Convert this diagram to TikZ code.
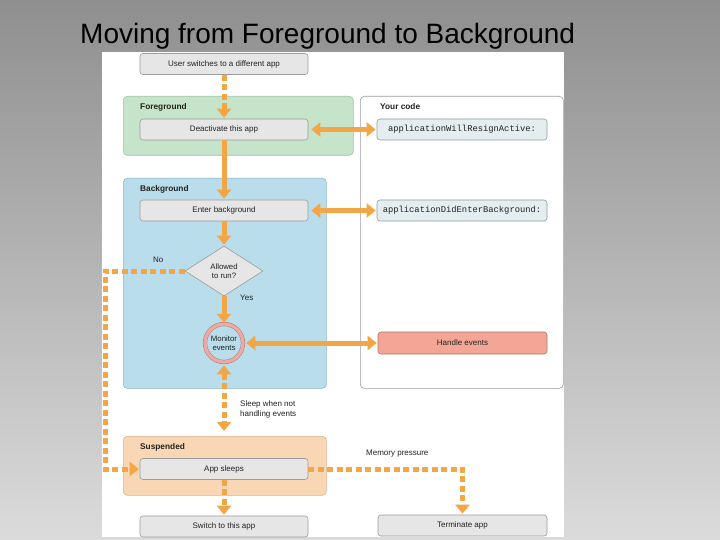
\documentclass[tikz,border=0pt]{standalone}
\usepackage{fontspec}
\setmainfont{Liberation Sans}
\setmonofont{Liberation Mono}
\usetikzlibrary{arrows.meta,shapes.geometric}
\definecolor{arrcol}{HTML}{F2A645}
\definecolor{fgfill}{HTML}{C6E4CA}
\definecolor{fgdraw}{HTML}{9FC2A3}
\definecolor{bgfill}{HTML}{B9DDEA}
\definecolor{bgdraw}{HTML}{8FB6C6}
\definecolor{sufill}{HTML}{FAD7B4}
\definecolor{sudraw}{HTML}{D8B490}
\definecolor{boxfill}{HTML}{E6E6E6}
\definecolor{boxdraw}{HTML}{9C9C9C}
\definecolor{codefill}{HTML}{E4EDEF}
\definecolor{codedraw}{HTML}{8E9EA4}
\definecolor{hefill}{HTML}{F3A695}
\definecolor{hedraw}{HTML}{B07868}
\definecolor{ringfill}{HTML}{E9ABA4}
\definecolor{ringdraw}{HTML}{B87870}
\definecolor{txt}{HTML}{222222}
\tikzset{
  region/.style={rounded corners=4pt, draw, line width=0.6pt, anchor=north west, inner sep=0pt},
  ttl/.style={font=\fontsize{8.3}{10}\selectfont\bfseries, text=txt, anchor=west, inner sep=0pt},
  stepbox/.style={rounded corners=3pt, draw=boxdraw, fill=boxfill, line width=0.6pt,
    minimum width=168pt, minimum height=21pt, inner sep=0pt,
    font=\fontsize{8}{10}\selectfont, text=txt},
  codebox/.style={stepbox, draw=codedraw, fill=codefill, minimum width=170pt,
    font=\fontsize{8.8}{10}\ttfamily},
  lbl/.style={font=\fontsize{8}{9.6}\selectfont, text=txt, inner sep=0pt},
  arr/.style={draw=arrcol, line width=5pt, -{Triangle[width=14pt,length=9pt]}},
  arrtwo/.style={draw=arrcol, line width=5pt, {Triangle[width=14pt,length=9pt]}-{Triangle[width=14pt,length=9pt]}},
  dsh/.style={dash pattern=on 6pt off 3.5pt},
}
\begin{document}
\begin{tikzpicture}[x=1pt,y=-1pt]
\useasboundingbox (0,0) rectangle (720,540);
\shade[top color=black!44, bottom color=black!14] (0,0) rectangle (720,540);
\node[anchor=base west, font=\fontsize{28}{30}\selectfont, inner sep=0pt, text=black] (title) at (80,44) {Moving from Foreground to Background};
\fill[white] (102,52) rectangle (564,537);

% regions
\node[region, draw=fgdraw, fill=fgfill, minimum width=230pt, minimum height=59pt] (fg) at (123,96) {};
\node[region, draw=bgdraw, fill=bgfill, minimum width=203pt, minimum height=210pt] (bg) at (123,178) {};
\node[region, draw=sudraw, fill=sufill, minimum width=203pt, minimum height=59pt] (su) at (123,436) {};
\node[region, draw=boxdraw, fill=white, minimum width=203pt, minimum height=292pt] (yc) at (360,96) {};

\node[ttl] (fgt) at (140,107) {Foreground};
\node[ttl] (bgt) at (140,189) {Background};
\node[ttl] (sut) at (140,447) {Suspended};
\node[ttl] (yct) at (380,107) {Your code};

% boxes
\node[stepbox] (user) at (224,64) {User switches to a different app};
\node[stepbox] (deact) at (224,129.5) {Deactivate this app};
\node[stepbox] (enter) at (224,210.5) {Enter background};
\node[codebox] (code1) at (462,129.5) {applicationWillResignActive:};
\node[codebox] (code2) at (462,210.5) {applicationDidEnterBackground:};
\node[diamond, draw=boxdraw, fill=boxfill, line width=0.6pt, aspect=1.56,
  minimum width=78pt, minimum height=50pt, inner sep=1pt, align=center,
  font=\fontsize{7.8}{9.5}\selectfont, text=txt] (dia) at (224,271) {Allowed\\to run?};
\node[circle, draw=ringdraw, double=ringfill, double distance=3.2pt, line width=0.5pt,
  fill=bgfill, minimum size=38pt, inner sep=0pt, align=center,
  font=\fontsize{7.8}{9.5}\selectfont, text=txt] (mon) at (224,343) {Monitor\\events};
\node[stepbox, draw=hedraw, fill=hefill, minimum width=169pt, minimum height=22pt] (handle) at (462.5,343) {Handle events};
\node[stepbox] (sleeps) at (224,469) {App sleeps};
\node[stepbox] (switch) at (224,526.5) {Switch to this app};
\node[stepbox, minimum width=169pt] (term) at (462.5,525.5) {Terminate app};

% labels
\node[lbl, anchor=west] (no) at (153,260) {No};
\node[lbl, anchor=west] (yes) at (240,298) {Yes};
\node[lbl, anchor=north west, align=left] (sleep) at (240,401) {Sleep when not\\handling events};
\node[lbl, anchor=west] (mem) at (366,454) {Memory pressure};

\coordinate (c1) at (105,271);
\coordinate (c2) at (224,436);

% connectors
\draw[arr, dsh, shorten >=1pt] (user) -- (deact);
\draw[arr, shorten >=1pt] (deact) -- (enter);
\draw[arrtwo, shorten <=3pt, shorten >=1pt] (deact) -- (code1);
\draw[arrtwo, shorten <=3pt, shorten >=1pt] (enter) -- (code2);
\draw[arr, shorten >=1pt] (enter) -- (dia);
\draw[arr, shorten >=1pt] (dia) -- (mon);
\draw[arrtwo, shorten <=3pt, shorten >=1pt] (mon) -- (handle);
\draw[arrtwo, dsh, shorten <=3pt, shorten >=5pt] (mon) -- (c2);
\draw[arr, dsh, shorten >=1pt] (dia.west) -- (c1) |- (sleeps.west);
\draw[arr, dsh, shorten >=1pt] (sleeps.east) -| (term.north);
\draw[arr, dsh, shorten >=1pt] (sleeps) -- (switch);
\end{tikzpicture}
\end{document}
